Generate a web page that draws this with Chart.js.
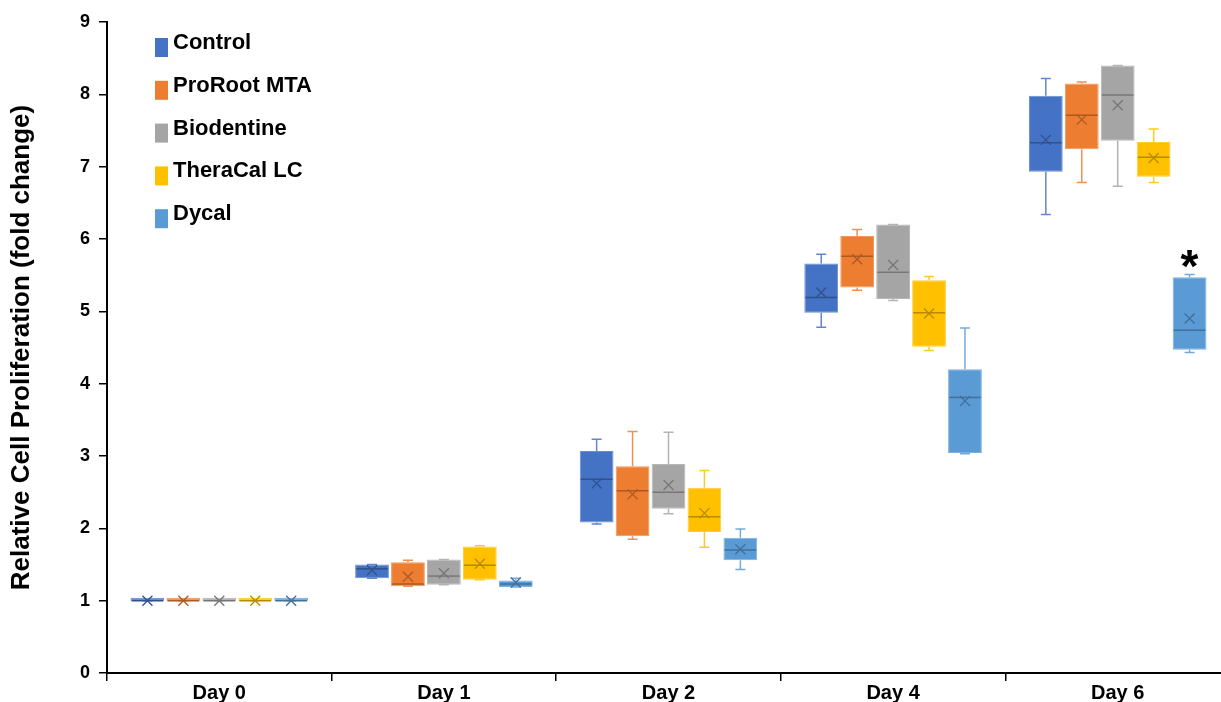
<!DOCTYPE html>
<html>
<head>
<meta charset="utf-8">
<script src="https://cdn.jsdelivr.net/npm/chart.js@4.4.1/dist/chart.umd.min.js"></script>
<style>
  html, body { margin: 0; padding: 0; background: #fff; overflow: hidden; }
  #wrap { width: 1230px; height: 702px; }
</style>
</head>
<body>
<div id="wrap"><canvas id="chart"></canvas></div>
<script>
"use strict";

const FONT = "'Liberation Sans', Arial, sans-serif";

const days = ["Day 0", "Day 1", "Day 2", "Day 4", "Day 6"];
const groups = ["Control", "ProRoot MTA", "Biodentine", "TheraCal LC", "Dycal"];
const colors = ["#4472C4", "#ED7D31", "#A5A5A5", "#FFC000", "#5B9BD5"];
const yTicks = [0, 1, 2, 3, 4, 5, 6, 7, 8, 9];

// [min, q1, median, q3, max] por día
const controlBox = [[1, 1, 1, 1, 1], [1.31, 1.31, 1.44, 1.50, 1.50], [2.06, 2.08, 2.68, 3.07, 3.23], [4.78, 4.98, 5.19, 5.66, 5.79], [6.34, 6.93, 7.33, 7.98, 8.22]];
const proRootBox = [[1, 1, 1, 1, 1], [1.20, 1.20, 1.23, 1.53, 1.56], [1.85, 1.89, 2.52, 2.86, 3.34], [5.29, 5.33, 5.76, 6.04, 6.13], [6.78, 7.24, 7.71, 8.15, 8.17]];
const biodentineBox = [[1, 1, 1, 1, 1], [1.22, 1.22, 1.34, 1.57, 1.57], [2.20, 2.27, 2.50, 2.89, 3.33], [5.15, 5.17, 5.54, 6.20, 6.20], [6.73, 7.36, 7.99, 8.40, 8.40]];
const theraCalBox = [[1, 1, 1, 1, 1], [1.29, 1.29, 1.49, 1.75, 1.76], [1.74, 1.95, 2.16, 2.56, 2.80], [4.46, 4.51, 4.98, 5.43, 5.48], [6.78, 6.86, 7.13, 7.34, 7.52]];
const dycalBox = [[1, 1, 1, 1, 1], [1.19, 1.19, 1.23, 1.28, 1.31], [1.43, 1.56, 1.70, 1.87, 1.99], [3.03, 3.04, 3.81, 4.20, 4.77], [4.43, 4.47, 4.74, 5.47, 5.51]];

// medias (marca "x")
const controlMean = [1.0, 1.42, 2.62, 5.26, 7.37];
const proRootMean = [1.0, 1.33, 2.47, 5.72, 7.65];
const biodentineMean = [1.0, 1.38, 2.60, 5.64, 7.85];
const theraCalMean = [1.0, 1.51, 2.21, 4.97, 7.12];
const dycalMean = [1.0, 1.25, 1.71, 3.76, 4.90];

const boxes = [controlBox, proRootBox, biodentineBox, theraCalBox, dycalBox];
const means = [controlMean, proRootMean, biodentineMean, theraCalMean, dycalMean];

// diferencia significativa: Dycal, Day 6
const marked = [{ group: 4, day: 4, text: "*" }];

function shade(hex, f) {
  const n = parseInt(hex.slice(1), 16);
  const r = Math.round(((n >> 16) & 255) * f);
  const g = Math.round(((n >> 8) & 255) * f);
  const b = Math.round((n & 255) * f);
  return `rgb(${r},${g},${b})`;
}

function tint(hex, f) {
  const n = parseInt(hex.slice(1), 16);
  const mix = (c) => Math.round(c + (255 - c) * f);
  return `rgb(${mix((n >> 16) & 255)},${mix((n >> 8) & 255)},${mix(n & 255)})`;
}

// bigotes, mediana y media sobre cada caja
const boxDecor = {
  id: "boxDecor",
  afterDatasetsDraw(chart) {
    const ctx = chart.ctx;
    const y = chart.scales.y;
    ctx.save();
    boxes.forEach((box, i) => {
      const meta = chart.getDatasetMeta(i);
      meta.data.forEach((bar, j) => {
        const [mn, q1, med, q3, mx] = box[j];
        const cx = bar.x;
        const half = bar.width / 2;
        const cap = 5;

        ctx.strokeStyle = tint(colors[i], 0.15);
        ctx.lineWidth = 1.5;
        ctx.beginPath();
        ctx.moveTo(cx, y.getPixelForValue(q3));
        ctx.lineTo(cx, y.getPixelForValue(mx));
        ctx.moveTo(cx - cap, y.getPixelForValue(mx));
        ctx.lineTo(cx + cap, y.getPixelForValue(mx));
        ctx.moveTo(cx, y.getPixelForValue(q1));
        ctx.lineTo(cx, y.getPixelForValue(mn));
        ctx.moveTo(cx - cap, y.getPixelForValue(mn));
        ctx.lineTo(cx + cap, y.getPixelForValue(mn));
        ctx.stroke();

        const dark = shade(colors[i], 0.72);
        ctx.strokeStyle = dark;
        ctx.lineWidth = 1.5;
        const ym = y.getPixelForValue(med);
        ctx.beginPath();
        ctx.moveTo(cx - half + 1, ym);
        ctx.lineTo(cx + half - 1, ym);
        ctx.stroke();

        const ya = y.getPixelForValue(means[i][j]);
        const s = 5;
        ctx.lineWidth = 1.3;
        ctx.beginPath();
        ctx.moveTo(cx - s, ya - s);
        ctx.lineTo(cx + s, ya + s);
        ctx.moveTo(cx + s, ya - s);
        ctx.lineTo(cx - s, ya + s);
        ctx.stroke();
      });
    });

    ctx.fillStyle = "#000";
    ctx.font = `bold 46px ${FONT}`;
    ctx.textAlign = "center";
    ctx.textBaseline = "alphabetic";
    marked.forEach((m) => {
      const bar = chart.getDatasetMeta(m.group).data[m.day];
      const top = y.getPixelForValue(boxes[m.group][m.day][4]);
      ctx.fillText(m.text, bar.x, top + 8);
    });
    ctx.restore();
  },
};

// leyenda vertical dentro del área del gráfico
const sideLegend = {
  id: "sideLegend",
  afterDraw(chart) {
    const ctx = chart.ctx;
    ctx.save();
    ctx.font = `bold 22px ${FONT}`;
    ctx.textAlign = "left";
    ctx.textBaseline = "alphabetic";
    groups.forEach((name, i) => {
      const top = 38 + i * 42.8;
      ctx.fillStyle = colors[i];
      ctx.fillRect(155, top, 13, 19);
      ctx.fillStyle = "#000";
      ctx.fillText(name, 173, top + 11);
    });
    ctx.restore();
  },
};

const chart = new Chart(document.getElementById("chart"), {
  type: "bar",
  data: {
    labels: days,
    datasets: groups.map((name, i) => ({
      label: name,
      data: boxes[i].map((b) => [b[1], b[3]]),
      backgroundColor: colors[i],
      borderColor: tint(colors[i], 0.2),
      borderWidth: 1,
      borderSkipped: false,
      minBarLength: 3,
    })),
  },
  options: {
    responsive: true,
    maintainAspectRatio: false,
    animation: false,
    events: [],
    layout: { padding: { top: 22, right: 0, bottom: 0, left: 0 } },
    datasets: { bar: { categoryPercentage: 0.8, barPercentage: 0.94 } },
    plugins: {
      legend: { display: false },
      tooltip: { enabled: false },
    },
    scales: {
      x: {
        grid: {
          display: true,
          drawOnChartArea: false,
          offset: true,
          tickLength: 8,
          color: "#000",
          lineWidth: 1.5,
        },
        border: { color: "#000", width: 2 },
        ticks: {
          color: "#000",
          padding: 0,
          font: { family: FONT, size: 20, weight: "bold" },
        },
        afterFit(scale) {
          scale.height = 29;
        },
      },
      y: {
        min: 0,
        max: 9,
        afterBuildTicks(scale) {
          scale.ticks = yTicks.map((v) => ({ value: v }));
        },
        grid: {
          drawOnChartArea: false,
          tickLength: 8,
          color: "#000",
          lineWidth: 1.5,
        },
        border: { color: "#000", width: 2 },
        ticks: {
          color: "#000",
          padding: 9,
          font: { family: FONT, size: 18, weight: "bold" },
        },
        title: {
          display: true,
          text: "Relative Cell Proliferation (fold change)",
          color: "#000",
          font: { family: FONT, size: 26, weight: "bold" },
          padding: { top: 6, bottom: 0 },
        },
        afterFit(scale) {
          scale.width = 107;
        },
      },
    },
  },
  plugins: [boxDecor, sideLegend],
});
</script>
</body>
</html>
